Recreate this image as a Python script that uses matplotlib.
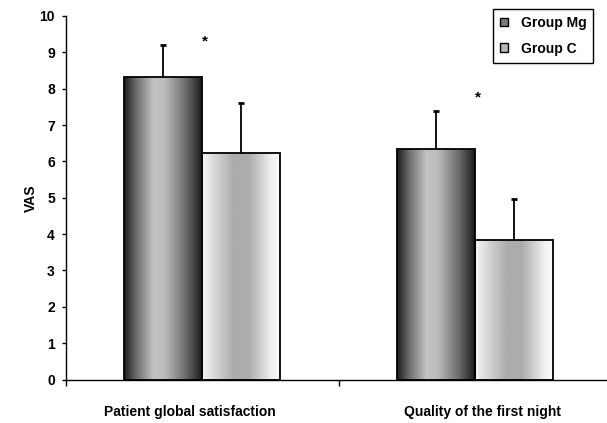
import numpy as np
import matplotlib
matplotlib.use("Agg")
import matplotlib.pyplot as plt
from matplotlib.patches import Patch
from matplotlib.colors import LinearSegmentedColormap

plt.rcParams["font.family"] = ["Liberation Sans", "DejaVu Sans"]
plt.rcParams["font.weight"] = "bold"

categories = ["Patient global satisfaction", "Quality of the first night"]
groups = ["Group Mg", "Group C"]
mg_means = [8.33, 6.34]
mg_sd = [0.88, 1.06]
c_means = [6.24, 3.84]
c_sd = [1.38, 1.12]
star_y = [9.3, 7.75]

# horizontal gradients, one per group
MG_CMAP = LinearSegmentedColormap.from_list(
    "mg", [(0.0, "#1c1c1c"), (0.15, "#6a6a6a"), (0.38, "#c4c4c4"),
           (0.52, "#bcbcbc"), (0.8, "#6a6a6a"), (1.0, "#1c1c1c")])
C_CMAP = LinearSegmentedColormap.from_list(
    "c", [(0.0, "#f6f6f6"), (0.4, "#acacac"), (0.6, "#acacac"),
          (0.9, "#f2f2f2"), (1.0, "#fafafa")])

# the category labels sit a little off the group centres in the original
LABEL_SHIFT = [-0.045, 0.03]


def gradient_fill(ax, bars, cmap):
    grad = np.linspace(0, 1, 256).reshape(1, -1)
    for b in bars:
        x0, y0 = b.get_x(), b.get_y()
        w, h = b.get_width(), b.get_height()
        im = ax.imshow(grad, cmap=cmap, aspect="auto", interpolation="bilinear",
                       extent=[x0, x0 + w, y0, y0 + h], zorder=1)
        im.set_clip_path(b)


def up_errorbar(ax, xs, ys, err):
    _, caps, _ = ax.errorbar(xs, ys, yerr=[np.zeros(len(xs)), err], fmt="none",
                             ecolor="black", elinewidth=1.3, capsize=2,
                             capthick=2, zorder=3)
    caps[0].set_visible(False)


fig = plt.figure(figsize=(6.07, 4.23), dpi=100)
ax = fig.add_axes([0.1087, 0.1028, 0.898, 0.8594])

x = np.arange(len(categories))
width = 0.286

bars_mg = ax.bar(x - width / 2, mg_means, width, facecolor="none",
                 edgecolor="black", linewidth=1.3, zorder=2)
bars_c = ax.bar(x + width / 2, c_means, width, facecolor="none",
                edgecolor="black", linewidth=1.3, zorder=2)
gradient_fill(ax, bars_mg, MG_CMAP)
gradient_fill(ax, bars_c, C_CMAP)

up_errorbar(ax, x - width / 2, mg_means, mg_sd)
up_errorbar(ax, x + width / 2, c_means, c_sd)

for xi, sy in zip(x, star_y):
    ax.text(xi + 0.01, sy, "*", ha="center", va="center", fontsize=11, fontweight="bold")

ax.set_xlim(-0.5, 1.5)
ax.set_ylim(0, 10)
ax.set_yticks(range(0, 11))
ax.set_xticks([-0.5, 0.5, 1.5])
ax.set_xticklabels([])
ax.tick_params(axis="y", direction="out", length=3, width=1, pad=5, labelsize=10)
ax.tick_params(axis="x", direction="out", length=4, width=1)
for xi, lab, sh in zip(x, categories, LABEL_SHIFT):
    ax.text(xi + sh, -0.88, lab, ha="center", va="center", fontsize=10, fontweight="bold")

ax.spines["top"].set_visible(False)
ax.spines["right"].set_visible(False)
ax.spines["left"].set_linewidth(1)
ax.spines["bottom"].set_linewidth(1)
ax.set_ylabel("VAS", fontsize=10, fontweight="bold", labelpad=1)

handles = [Patch(facecolor="#7a7a7a", edgecolor="black", linewidth=1),
           Patch(facecolor="#b8b8b8", edgecolor="black", linewidth=1)]
leg = fig.legend(handles, groups, loc="upper left", bbox_to_anchor=(0.812, 0.979),
                 borderaxespad=0, frameon=True, fancybox=False, edgecolor="black",
                 framealpha=1, handlelength=0.6, handleheight=0.6, handletextpad=0.9,
                 borderpad=0.5, labelspacing=0.85, fontsize=10)
leg.get_frame().set_linewidth(1)

fig.savefig("out.png", dpi=100)
